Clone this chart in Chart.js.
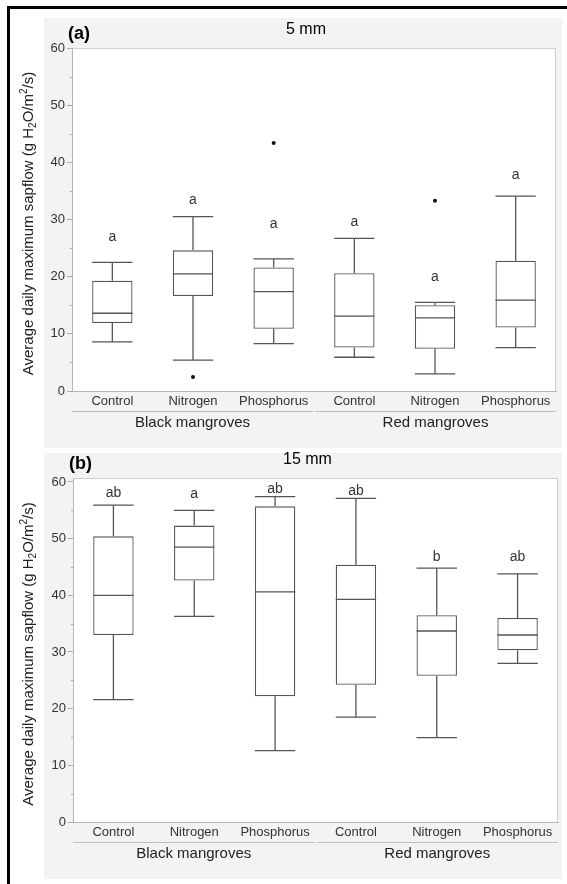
<!DOCTYPE html>
<html>
<head>
<meta charset="utf-8">
<script src="https://cdn.jsdelivr.net/npm/chart.js@4/dist/chart.umd.min.js"></script>
<style>
  body { margin: 0; background: #fff; }
  #page { position: relative; width: 567px; height: 884px; overflow: hidden; }
  .edge { position: absolute; background: #000; }
  .panel { position: absolute; left: 44px; width: 518px; background: #f3f3f3; }
  canvas { position: absolute; left: 0; }
</style>
</head>
<body>
<div id="page">
  <div class="edge" style="left:7px;top:6px;width:3px;height:900px"></div>
  <div class="edge" style="left:7px;top:6px;width:600px;height:3px"></div>
  <div class="panel" style="top:18px;height:430px"></div>
  <div class="panel" style="top:453px;height:426px"></div>
  <canvas id="chart5" style="top:0" width="567" height="450"></canvas>
  <canvas id="chart15" style="top:450px" width="567" height="434"></canvas>
</div>
<script>
const categories = ["Control", "Nitrogen", "Phosphorus", "Control", "Nitrogen", "Phosphorus"];
const groups = ["Black mangroves", "Red mangroves"];
const yTicks = [0, 10, 20, 30, 40, 50, 60];

// (a) 5 mm sensors
const mm5Lower = [8.6, 5.4, 8.3, 5.9, 3.0, 7.6];
const mm5Q1 = [11.9, 16.6, 10.9, 7.6, 7.4, 11.1];
const mm5Median = [13.6, 20.5, 17.4, 13.1, 12.8, 15.9];
const mm5Q3 = [19.3, 24.6, 21.6, 20.6, 15.0, 22.8];
const mm5Upper = [22.5, 30.5, 23.1, 26.7, 15.5, 34.1];
const mm5Outliers = [[], [2.45], [43.4], [], [33.3], []];
const mm5Letters = ["a", "a", "a", "a", "a", "a"];
const mm5LetterY = [27, 33.4, 29.2, 29.5, 20.0, 37.7];

// (b) 15 mm sensors
const mm15Lower = [21.6, 36.3, 12.6, 18.5, 14.9, 28.0];
const mm15Q1 = [33.0, 42.6, 22.2, 24.2, 25.8, 30.3];
const mm15Median = [40.0, 48.5, 40.6, 39.3, 33.7, 33.0];
const mm15Q3 = [50.4, 52.3, 55.7, 45.4, 36.5, 36.0];
const mm15Upper = [55.9, 55.0, 57.4, 57.1, 44.8, 43.8];
const mm15Outliers = [[], [], [], [], [], []];
const mm15Letters = ["ab", "a", "ab", "ab", "b", "ab"];
const mm15LetterY = [58.0, 57.8, 58.8, 58.4, 46.7, 46.7];

const FONT = "'Liberation Sans', Arial, sans-serif";
const BOX = "#555";

function drawYTitle(ctx, x, y) {
  const parts = [
    ["Average daily maximum sapflow (g H", 15, 0],
    ["2", 10, 4],
    ["O/m", 15, 0],
    ["2", 10, -5],
    ["/s)", 15, 0],
  ];
  ctx.save();
  ctx.translate(x, y);
  ctx.rotate(-Math.PI / 2);
  ctx.fillStyle = "#222";
  ctx.textBaseline = "middle";
  ctx.textAlign = "left";
  let total = 0;
  parts.forEach((p) => {
    ctx.font = p[1] + "px " + FONT;
    total += ctx.measureText(p[0]).width;
  });
  let pos = -total / 2;
  parts.forEach((p) => {
    ctx.font = p[1] + "px " + FONT;
    ctx.fillText(p[0], pos, p[2]);
    pos += ctx.measureText(p[0]).width;
  });
  ctx.restore();
}

function boxPlugin(s) {
  return {
    id: "boxes",
    beforeDraw(chart) {
      const { ctx, chartArea: a } = chart;
      ctx.save();
      ctx.fillStyle = "#fff";
      ctx.fillRect(a.left, a.top, a.right - a.left, a.bottom - a.top);
      ctx.strokeStyle = "#cfcfcf";
      ctx.lineWidth = 1;
      ctx.strokeRect(a.left + 0.5, a.top + 0.5, a.right - a.left - 1, a.bottom - a.top);
      ctx.restore();
    },
    afterDatasetsDraw(chart) {
      const { ctx, chartArea: a } = chart;
      const x = chart.scales.x, y = chart.scales.y;
      const half = (x.getPixelForValue(1) - x.getPixelForValue(0)) * 0.25;
      ctx.save();
      ctx.strokeStyle = BOX;
      ctx.lineWidth = 1.3;
      const seg = (x1, y1, x2, y2) => {
        ctx.beginPath();
        ctx.moveTo(x1, y1);
        ctx.lineTo(x2, y2);
        ctx.stroke();
      };
      categories.forEach((c, i) => {
        const cx = x.getPixelForValue(i);
        const yl = y.getPixelForValue(s.lower[i]);
        const y1 = y.getPixelForValue(s.q1[i]);
        const y3 = y.getPixelForValue(s.q3[i]);
        const yu = y.getPixelForValue(s.upper[i]);
        const ym = y.getPixelForValue(s.median[i]);
        seg(cx, y3, cx, yu);
        seg(cx, y1, cx, yl);
        seg(cx - half, yu, cx + half, yu);
        seg(cx - half, yl, cx + half, yl);
        seg(cx - half, ym, cx + half, ym);
        ctx.fillStyle = "#111";
        s.outliers[i].forEach((v) => {
          ctx.beginPath();
          ctx.arc(cx, y.getPixelForValue(v), 2, 0, Math.PI * 2);
          ctx.fill();
        });
        ctx.fillStyle = "#333";
        ctx.font = "14px " + FONT;
        ctx.textAlign = "center";
        ctx.textBaseline = "middle";
        ctx.fillText(s.letters[i], cx, y.getPixelForValue(s.letterY[i]));
      });
      // minor ticks
      ctx.strokeStyle = "#aaa";
      ctx.lineWidth = 1;
      for (let v = 5; v < 60; v += 10) {
        const py = Math.round(y.getPixelForValue(v)) + 0.5;
        seg(a.left - 2, py, a.left, py);
      }
      ctx.restore();
    },
    afterDraw(chart) {
      const { ctx, chartArea: a } = chart;
      const x = chart.scales.x;
      const step = x.getPixelForValue(1) - x.getPixelForValue(0);
      ctx.save();
      ctx.strokeStyle = "#bdbdbd";
      ctx.lineWidth = 1;
      ctx.fillStyle = "#222";
      ctx.font = "15px " + FONT;
      ctx.textAlign = "center";
      ctx.textBaseline = "middle";
      groups.forEach((g, k) => {
        const x0 = x.getPixelForValue(k * 3) - step / 2 + (k ? 1 : 0);
        const x1 = x.getPixelForValue(k * 3 + 2) + step / 2 - (k ? 0 : 1);
        const ly = a.bottom + 20.5;
        ctx.beginPath();
        ctx.moveTo(x0, ly);
        ctx.lineTo(x1, ly);
        ctx.stroke();
        ctx.fillText(g, (x0 + x1) / 2, a.bottom + 32);
      });
      // panel titles
      ctx.font = "bold 18px " + FONT;
      ctx.textAlign = "left";
      ctx.fillStyle = "#000";
      ctx.fillText(s.tag, a.left - 4, a.top - 14);
      ctx.font = "16px " + FONT;
      ctx.textAlign = "center";
      ctx.fillText(s.title, (a.left + a.right) / 2 - 8, a.top - 18);
      drawYTitle(ctx, 29, (a.top + a.bottom) / 2 + 4);
      ctx.restore();
    },
  };
}

function makeChart(id, s) {
  const canvas = document.getElementById(id);
  return new Chart(canvas.getContext("2d"), {
    type: "bar",
    data: {
      labels: categories,
      datasets: [
        {
          label: s.title,
          data: s.q1.map((v, i) => [v, s.q3[i]]),
          backgroundColor: "#fff",
          borderColor: BOX,
          borderWidth: 1.3,
          borderSkipped: false,
          barPercentage: 0.5,
          categoryPercentage: 1,
        },
      ],
    },
    options: {
      responsive: false,
      animation: false,
      layout: { padding: s.padding },
      plugins: { legend: { display: false }, tooltip: { enabled: false } },
      scales: {
        x: {
          grid: { display: false, drawTicks: false },
          border: { display: true, color: "#b5b5b5" },
          ticks: { color: "#333", font: { family: FONT, size: 13 }, padding: 3, maxRotation: 0, autoSkip: false },
          afterFit: (sc) => { sc.height = 45; },
        },
        y: {
          min: 0,
          max: s.max,
          grid: { drawOnChartArea: false, drawTicks: true, tickLength: 5, color: "#aaa" },
          border: { display: true, color: "#b5b5b5" },
          ticks: { color: "#333", font: { family: FONT, size: 13 }, padding: 2 },
          afterBuildTicks: (sc) => { sc.ticks = yTicks.map((v) => ({ value: v })); },
          afterFit: (sc) => { sc.width = s.axisWidth; },
        },
      },
    },
    plugins: [boxPlugin(s)],
  });
}

makeChart("chart5", {
  title: "5 mm", tag: "(a)", max: 60, axisWidth: 72,
  padding: { top: 48, bottom: 14, left: 0, right: 11 },
  lower: mm5Lower, q1: mm5Q1, median: mm5Median, q3: mm5Q3, upper: mm5Upper,
  outliers: mm5Outliers, letters: mm5Letters, letterY: mm5LetterY,
});

makeChart("chart15", {
  title: "15 mm", tag: "(b)", max: 60.7, axisWidth: 73,
  padding: { top: 28, bottom: 17, left: 0, right: 9 },
  lower: mm15Lower, q1: mm15Q1, median: mm15Median, q3: mm15Q3, upper: mm15Upper,
  outliers: mm15Outliers, letters: mm15Letters, letterY: mm15LetterY,
});
</script>
</body>
</html>
